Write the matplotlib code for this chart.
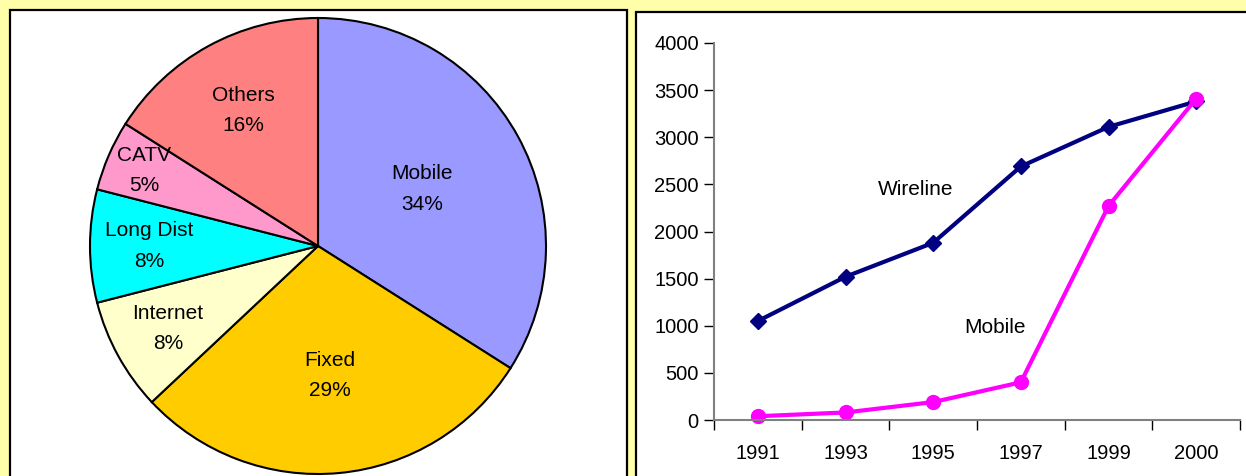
import matplotlib
matplotlib.use("Agg")
import matplotlib.pyplot as plt
import numpy as np
from matplotlib.patches import Rectangle

# pie data
segments = ["Mobile", "Fixed", "Internet", "Long Dist", "CATV", "Others"]
shares = [34, 29, 8, 8, 5, 16]
seg_colors = ["#9999FF", "#FFCC00", "#FFFFCC", "#00FFFF", "#FF99CC", "#FF8080"]
label_radius = [0.52, 0.57, 0.75, 0.74, 0.83, 0.68]

# line data
years = ["1991", "1993", "1995", "1997", "1999", "2000"]
wireline = [1050, 1520, 1880, 2690, 3110, 3380]
mobile = [40, 80, 190, 400, 2270, 3410]

plt.rcParams['font.family'] = ['Liberation Sans', 'DejaVu Sans']

W, H = 1246, 476
fig = plt.figure(figsize=(W / 100, H / 100), dpi=100)
fig.patch.set_facecolor("#FFFFAA")

# white panels with black frame (behind the axes)
fig.patches.append(Rectangle((10 / W, -0.1), 617 / W, 1.1 - 10 / H, transform=fig.transFigure,
                             facecolor="white", edgecolor="black", linewidth=1.6,
                             figure=fig, zorder=-10))
fig.patches.append(Rectangle((636 / W, -0.1), 0.6, 1.1 - 12 / H, transform=fig.transFigure,
                             facecolor="white", edgecolor="black", linewidth=1.6,
                             figure=fig, zorder=-10))

# pie
cx, cy, r = 318, 246, 228
ax1 = fig.add_axes([(cx - r) / W, (H - cy - r) / H, 2 * r / W, 2 * r / H])
wedges, _ = ax1.pie(shares, colors=seg_colors, startangle=90, counterclock=False,
                    wedgeprops=dict(edgecolor="black", linewidth=1.5))
for w, name, pct, lr in zip(wedges, segments, shares, label_radius):
    ang = np.deg2rad((w.theta1 + w.theta2) / 2)
    ax1.text(lr * np.cos(ang), lr * np.sin(ang), f"{name}\n{pct}%", ha="center", va="center",
             fontsize=15, linespacing=1.75)
ax1.set_xlim(-1, 1)
ax1.set_ylim(-1, 1)
ax1.set_aspect("equal")
ax1.axis("off")

# line chart
ax2 = fig.add_axes([714 / W, 56 / H, 526 / W, 377 / H])
ax2.set_facecolor("none")
x = np.arange(len(years))
ax2.plot(x, wireline, color="#000080", linewidth=3, marker="D", markersize=8, clip_on=False)
ax2.plot(x, mobile, color="#FF00FF", linewidth=3, marker="o", markersize=10, clip_on=False)
ax2.text(1.8, 2450, "Wireline", fontsize=15, ha="center", va="center")
ax2.text(2.7, 980, "Mobile", fontsize=15, ha="center", va="center")

ax2.set_xlim(-0.5, len(years) - 0.5)
ax2.set_ylim(0, 4000)
ax2.set_yticks(np.arange(0, 4001, 500))
ax2.set_xticks(x)
ax2.set_xticklabels(years)
ax2.set_xticks(np.arange(-0.5, len(years)), minor=True)
ax2.tick_params(axis="x", which="major", length=0, pad=17, labelsize=14.5)
ax2.tick_params(axis="x", which="minor", length=7, width=1, direction="out")
ax2.tick_params(axis="y", length=7, width=1, pad=4, labelsize=14.5)
for s in ["top", "right"]:
    ax2.spines[s].set_visible(False)
for s in ["left", "bottom"]:
    ax2.spines[s].set_color("#808080")
    ax2.spines[s].set_linewidth(1.5)

fig.savefig("out.png", dpi=100, facecolor=fig.get_facecolor())
